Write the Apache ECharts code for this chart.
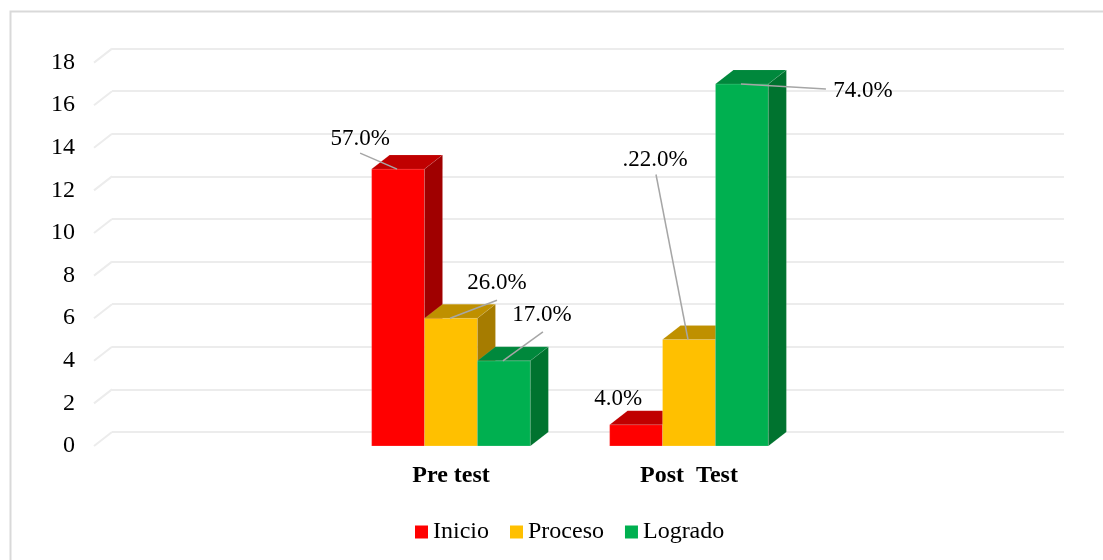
<!DOCTYPE html>
<html>
<head>
<meta charset="utf-8">
<script src="https://cdn.jsdelivr.net/npm/echarts@6/dist/echarts.min.js"></script>
<style>
  html, body { margin: 0; padding: 0; background: #fff; }
  #chart { width: 1103px; height: 560px; }
</style>
</head>
<body>
<div id="chart"></div>
<script>
// data
var categories = ['Pre test', 'Post  Test'];
var inicio = [13, 1];
var proceso = [6, 5];
var logrado = [4, 17];
var inicioPct = ['57.0%', '4.0%'];
var procesoPct = ['26.0%', '.22.0%'];
var logradoPct = ['17.0%', '74.0%'];
var yTicks = [0, 2, 4, 6, 8, 10, 12, 14, 16, 18];

// axis has an empty slot on each side, like the original
var axisCats = [''].concat(categories).concat(['']);

// 3d look
var DX = 18, DY = -14;
var FONT = 'Liberation Serif';

var faces = [
  { name: 'Inicio', front: '#ff0000', top: '#c00000', side: '#a00000' },
  { name: 'Proceso', front: '#ffc000', top: '#bf9000', side: '#a67c00' },
  { name: 'Logrado', front: '#00b050', top: '#00883c', side: '#00732f' }
];

// label offsets from the top-front middle of each bar
var labelPlace = [
  [{ dx: -38, dy: -30, line: [-38, -16] }, { dx: -18, dy: -26 }],
  [{ dx: 46, dy: -35, line: [46, -18] }, { dx: -34, dy: -180, line: [-33, -165] }],
  [{ dx: 38, dy: -46, line: [39, -29] }, { dx: 121, dy: 7, line: [84, 5] }]
];

function barSeries(idx, values, labels) {
  var f = faces[idx];
  return {
    name: f.name,
    type: 'custom',
    xAxisIndex: 0,
    yAxisIndex: 0,
    itemStyle: { color: f.front },
    data: values.map(function (v, i) { return [i + 1, v, i]; }),
    encode: { x: 0, y: 1 },
    renderItem: function (params, api) {
      var ci = api.value(2);
      var top = api.coord([api.value(0), api.value(1)]);
      var base = api.coord([api.value(0), 0]);
      var band = api.size([1, 0])[0];
      var w = band * 0.667 / 3;
      var x0 = top[0] - 1.5 * w + idx * w;
      var x1 = x0 + w;
      var yt = top[1], yb = base[1];
      var cx = (x0 + x1) / 2;
      var kids = [
        { type: 'rect', shape: { x: x0, y: yt, width: w, height: yb - yt },
          style: { fill: f.front, stroke: 'rgba(255,255,255,0.25)', lineWidth: 0.8 } },
        { type: 'polygon', shape: { points: [[x0, yt], [x1, yt], [x1 + DX, yt + DY], [x0 + DX, yt + DY]] },
          style: { fill: f.top, stroke: 'rgba(255,255,255,0.15)', lineWidth: 0.6 } },
        { type: 'polygon', shape: { points: [[x1, yt], [x1 + DX, yt + DY], [x1 + DX, yb + DY], [x1, yb]] },
          style: { fill: f.side, stroke: 'rgba(255,255,255,0.15)', lineWidth: 0.6 } }
      ];
      var p = labelPlace[idx][ci];
      if (p.line) {
        kids.push({ type: 'line', shape: { x1: cx + p.line[0], y1: yt + p.line[1], x2: cx - 1, y2: yt },
          style: { stroke: '#a6a6a6', lineWidth: 1.5 } });
      }
      kids.push({ type: 'text', x: cx + p.dx, y: yt + p.dy,
        style: { text: labels[ci], fill: '#000', font: '23px "' + FONT + '"', align: 'center', verticalAlign: 'middle' } });
      return { type: 'group', children: kids };
    }
  };
}

var chart = echarts.init(document.getElementById('chart'));
chart.setOption({
  backgroundColor: '#fff',
  animation: false,
  graphic: [{
    type: 'rect', shape: { x: 10.5, y: 11.5, width: 1200, height: 700 },
    style: { fill: 'none', stroke: '#d9d9d9', lineWidth: 2 }, silent: true
  }],
  legend: {
    bottom: 11,
    left: 410,
    itemWidth: 13,
    itemHeight: 13,
    itemGap: 21,
    icon: 'rect',
    textStyle: { fontFamily: FONT, fontSize: 24, color: '#000' },
    data: ['Inicio', 'Proceso', 'Logrado']
  },
  grid: [
    { left: 94, right: 57, top: 62.6, bottom: 114 },
    { left: 94 + DX, right: 57 - DX, top: 62.6 + DY, bottom: 114 - DY }
  ],
  xAxis: [
    { type: 'category', gridIndex: 0, data: axisCats,
      axisLine: { show: false }, axisTick: { show: false },
      axisLabel: { fontFamily: FONT, fontSize: 24, fontWeight: 'bold', color: '#000', margin: 18 } },
    { type: 'value', gridIndex: 1, show: false, min: 0, max: 1 }
  ],
  yAxis: [
    { type: 'value', gridIndex: 0, min: 0, max: 18, interval: 2,
      axisLine: { show: false }, axisTick: { show: false }, splitLine: { show: false },
      axisLabel: { fontFamily: FONT, fontSize: 24, color: '#000', margin: 19 } },
    { type: 'value', gridIndex: 1, min: 0, max: 18, interval: 2,
      axisLine: { show: false }, axisTick: { show: false }, axisLabel: { show: false },
      splitLine: { lineStyle: { color: '#ececec', width: 2 } } }
  ],
  series: [
    {
      type: 'custom', name: 'floor', xAxisIndex: 0, yAxisIndex: 0, silent: true,
      data: yTicks.map(function (t) { return [0, t]; }),
      encode: { x: 0, y: 1 },
      renderItem: function (params, api) {
        var pt = api.coord([api.value(0), api.value(1)]);
        var band = api.size([1, 0])[0];
        var x = pt[0] - band / 2;
        return { type: 'line', shape: { x1: x, y1: pt[1], x2: x + DX, y2: pt[1] + DY },
          style: { stroke: '#ececec', lineWidth: 2 } };
      }
    },
    barSeries(0, inicio, inicioPct),
    barSeries(1, proceso, procesoPct),
    barSeries(2, logrado, logradoPct)
  ]
});
</script>
</body>
</html>
